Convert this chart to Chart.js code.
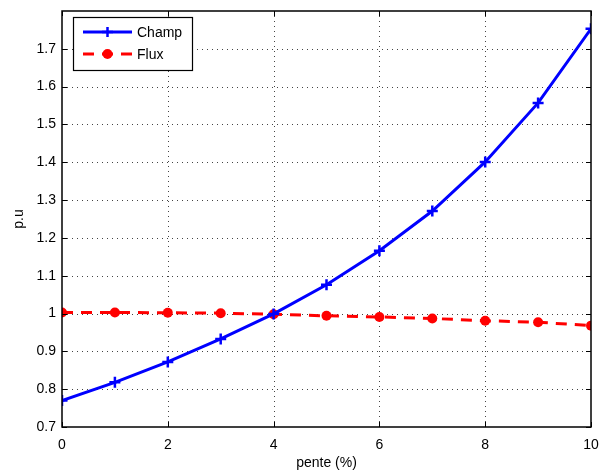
<!DOCTYPE html>
<html>
<head>
<meta charset="utf-8">
<script src="https://cdn.jsdelivr.net/npm/chart.js@4/dist/chart.umd.min.js"></script>
<style>
html,body{margin:0;padding:0;background:#fff;}
#wrap{width:599px;height:472px;position:relative;}
</style>
</head>
<body>
<div id="wrap"><canvas id="c" width="599" height="472"></canvas></div>
<script>
const pente = [0,1,2,3,4,5,6,7,8,9,10];
const champ = [0.770,0.818,0.872,0.933,0.999,1.076,1.166,1.271,1.401,1.557,1.753];
const flux  = [1.003,1.003,1.002,1.001,0.998,0.994,0.991,0.987,0.981,0.977,0.968];
const xTicks = [0,2,4,6,8,10];
const yTicks = [0.7,0.8,0.9,1.0,1.1,1.2,1.3,1.4,1.5,1.6,1.7];
const seriesNames = ['Champ','Flux'];
const FONT = 'Liberation Sans, Arial, sans-serif';

const frame = {
  id:'frame',
  beforeDatasetsDraw(chart){
    const {ctx, chartArea:a, scales:{x,y}} = chart;
    ctx.save();
    ctx.strokeStyle = '#444';
    ctx.lineWidth = 1;
    ctx.setLineDash([1,4]);
    xTicks.forEach(v=>{ if(v===0||v===10) return; const px=Math.round(x.getPixelForValue(v))+0.5; ctx.beginPath(); ctx.moveTo(px,a.top); ctx.lineTo(px,a.bottom); ctx.stroke(); });
    yTicks.forEach(v=>{ if(v===0.7) return; const py=Math.round(y.getPixelForValue(v))+0.5; ctx.beginPath(); ctx.moveTo(a.left,py); ctx.lineTo(a.right,py); ctx.stroke(); });
    ctx.setLineDash([]);
    ctx.restore();
  },
  afterDatasetsDraw(chart){
    const {ctx, chartArea:a, scales:{x,y}} = chart;
    ctx.save();
    ctx.strokeStyle = '#000';
    ctx.lineWidth = 1;
    const tl = 5;
    xTicks.forEach(v=>{ const px=Math.round(x.getPixelForValue(v))+0.5;
      ctx.beginPath(); ctx.moveTo(px,a.bottom); ctx.lineTo(px,a.bottom-tl); ctx.moveTo(px,a.top); ctx.lineTo(px,a.top+tl); ctx.stroke(); });
    yTicks.forEach(v=>{ const py=Math.round(y.getPixelForValue(v))+0.5;
      ctx.beginPath(); ctx.moveTo(a.left,py); ctx.lineTo(a.left+tl,py); ctx.moveTo(a.right,py); ctx.lineTo(a.right-tl,py); ctx.stroke(); });
    ctx.lineWidth = 1.5;
    ctx.strokeRect(a.left, a.top, a.right-a.left, a.bottom-a.top);
    // legend
    const lx = 73, ly = 17, lw = 119, lh = 53;
    ctx.fillStyle = '#fff';
    ctx.fillRect(lx,ly,lw,lh);
    ctx.lineWidth = 1.2;
    ctx.strokeStyle = '#000';
    ctx.strokeRect(lx+0.5,ly+0.5,lw,lh);
    const ds = chart.data.datasets;
    const rows = [ly+15, ly+37];
    ds.forEach((d,i)=>{
      const yy = rows[i];
      ctx.strokeStyle = d.borderColor;
      ctx.lineWidth = d.borderWidth;
      ctx.setLineDash(d.borderDash || []);
      ctx.beginPath(); ctx.moveTo(83,yy); ctx.lineTo(132,yy); ctx.stroke();
      ctx.setLineDash([]);
      if(d.pointStyle==='cross'){
        ctx.lineWidth = 2.5; ctx.strokeStyle = d.pointBorderColor;
        ctx.beginPath(); ctx.moveTo(107.5,yy-5); ctx.lineTo(107.5,yy+5); ctx.moveTo(102,yy); ctx.lineTo(113,yy); ctx.stroke();
      } else {
        ctx.fillStyle = d.pointBackgroundColor;
        ctx.beginPath(); ctx.arc(107.5,yy,5,0,Math.PI*2); ctx.fill();
      }
      ctx.fillStyle = '#000';
      ctx.font = '14px ' + FONT;
      ctx.textBaseline = 'middle';
      ctx.textAlign = 'left';
      ctx.fillText(d.label, 137, yy+1);
    });
    ctx.restore();
  }
};

new Chart(document.getElementById('c'), {
  type:'line',
  data:{
    labels: pente,
    datasets:[
      { label: seriesNames[0], data: pente.map((p,i)=>({x:p,y:champ[i]})),
        borderColor:'#0000ff', borderWidth:3, pointStyle:'cross', pointRadius:5.5,
        pointBorderWidth:2.5, pointBorderColor:'#0000ff', pointBackgroundColor:'#0000ff', tension:0 },
      { label: seriesNames[1], data: pente.map((p,i)=>({x:p,y:flux[i]})),
        borderColor:'#ff0000', borderWidth:3, borderDash:[11,8], pointStyle:'circle', pointRadius:5,
        pointBorderWidth:0, pointBorderColor:'#ff0000', pointBackgroundColor:'#ff0000', tension:0 }
    ]
  },
  options:{
    responsive:false, animation:false,
    devicePixelRatio:1,
    layout:{padding:{left:0,right:7,top:11,bottom:0}},
    plugins:{legend:{display:false}, tooltip:{enabled:false}},
    elements:{point:{hitRadius:0}},
    scales:{
      x:{ type:'linear', min:0, max:10,
          afterBuildTicks(s){ s.ticks = xTicks.map(v=>({value:v})); },
          grid:{display:false, drawTicks:false}, border:{display:false},
          ticks:{color:'#000', font:{family:FONT,size:14}, padding:10, maxRotation:0, callback:v=>String(v)},
          title:{display:true, text:'pente (%)', color:'#000', font:{family:FONT,size:14}, padding:{top:3,bottom:0}},
          afterFit(s){ s.height = 45; s.paddingLeft = 0; s.paddingRight = 0; } },
      y:{ type:'linear', min:0.7, max:1.8,
          afterBuildTicks(s){ s.ticks = yTicks.map(v=>({value:v})); },
          grid:{display:false, drawTicks:false}, border:{display:false},
          ticks:{color:'#000', font:{family:FONT,size:14}, padding:6, callback:v=>(Math.round(v*10)/10).toString()},
          title:{display:true, text:'p.u', color:'#000', font:{family:FONT,size:14}, padding:{top:11,bottom:8}},
          afterFit(s){ s.width = 62; s.paddingTop = 0; s.paddingBottom = 0; } }
    }
  },
  plugins:[frame]
});
</script>
</body>
</html>
